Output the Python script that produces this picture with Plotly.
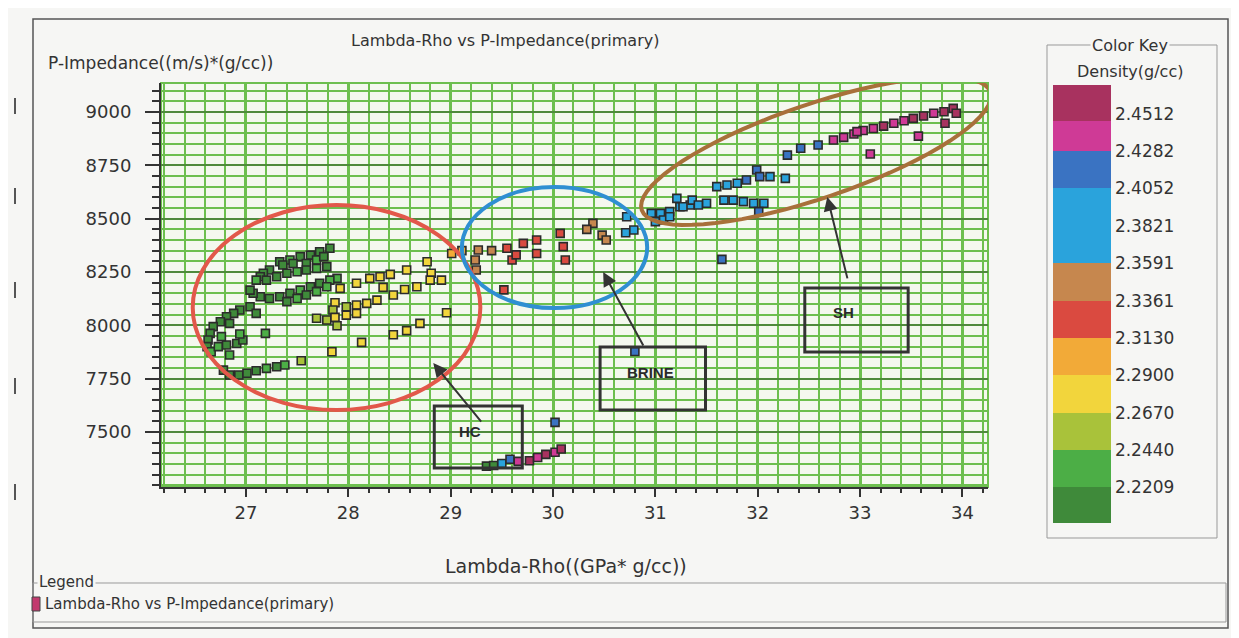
import math
import plotly.graph_objects as go

# ---------------- data ----------------
# HC zone (low density greens)
hc_lr = [27.82,27.72,27.63,27.53,27.43,27.33,27.36,27.46,27.59,27.69,27.76,
         27.23,27.17,27.14,27.10,27.20,27.30,27.40,27.50,27.59,27.69,27.79,27.89,
         27.82,27.72,27.63,27.53,27.43,27.33,27.23,27.14,27.07,27.04,27.40,27.50,27.59,27.69,27.79,
         27.04,26.94,26.88,26.81,26.75,26.68,26.65,26.63,26.62,26.66,26.73,26.81,26.91,26.97,26.94,26.84,26.76,26.84,27.10,27.19,
         26.78,26.84,26.93,27.01,27.10,27.20,27.30,27.38]
hc_pi = [8361,8345,8329,8322,8306,8298,8283,8290,8290,8306,8322,
         8259,8244,8228,8212,8212,8228,8244,8251,8259,8267,8275,8220,
         8212,8197,8181,8165,8150,8134,8126,8134,8150,8165,8111,8126,8142,8158,8181,
         8087,8072,8056,8040,8017,7994,7962,7931,7900,7876,7900,7908,7915,7931,7959,8009,7947,7861,8056,7962,
         7790,7767,7767,7775,7787,7798,7806,7814]
hc_den = [2.21,2.215,2.22,2.21,2.225,2.21,2.215,2.21,2.22,2.23,2.215,
          2.21,2.21,2.22,2.23,2.215,2.21,2.22,2.225,2.21,2.23,2.22,2.235,
          2.23,2.22,2.21,2.225,2.215,2.21,2.22,2.21,2.215,2.21,2.22,2.23,2.215,2.225,2.235,
          2.21,2.215,2.21,2.22,2.21,2.215,2.21,2.205,2.21,2.225,2.23,2.22,2.215,2.21,2.225,2.21,2.23,2.225,2.21,2.235,
          2.21,2.215,2.21,2.22,2.215,2.225,2.21,2.23]

# transition (yellow) points
tr_lr = [27.92,28.08,28.21,28.31,28.41,28.57,28.77,28.81,28.80,28.91,28.67,28.55,28.44,28.34,28.28,28.18,28.08,27.98,
         27.87,27.85,27.98,28.08,27.69,27.79,27.87,27.89,28.96,28.70,28.57,28.44,28.13,27.84,27.54,29.01,29.11]
tr_pi = [8173,8197,8220,8228,8239,8259,8298,8244,8212,8212,8181,8168,8142,8178,8118,8103,8095,8087,
         8106,8072,8048,8056,8033,8025,8037,7998,8059,8009,7975,7956,7920,7876,7834,8337,8350]
tr_den = [2.27,2.275,2.28,2.27,2.275,2.28,2.285,2.27,2.275,2.28,2.27,2.275,2.28,2.27,2.275,2.27,2.28,2.265,
          2.27,2.26,2.27,2.275,2.255,2.26,2.27,2.265,2.285,2.275,2.28,2.27,2.275,2.27,2.265,2.29,2.295]

# BRINE zone
br_lr = [29.27,29.40,29.24,29.25,29.55,29.60,29.71,29.84,29.84,30.07,30.10,30.12,29.52,29.64,
         30.39,30.33,30.48,30.52,30.72,30.71,30.79,30.96,31.05,31.14,31.24,31.34,31.50,31.00,31.08]
br_pi = [8353,8350,8306,8259,8361,8306,8384,8400,8337,8431,8369,8306,8166,8330,
         8478,8450,8423,8400,8509,8434,8447,8525,8525,8533,8556,8564,8572,8486,8494]
br_den = [2.345,2.345,2.34,2.345,2.325,2.32,2.325,2.33,2.32,2.325,2.32,2.33,2.325,2.32,
          2.35,2.345,2.35,2.345,2.385,2.38,2.39,2.385,2.39,2.38,2.39,2.385,2.395,2.38,2.39]

# SH zone
sh_lr = [31.21,31.27,31.36,31.42,31.60,31.70,31.80,31.89,31.99,32.02,32.12,32.27,31.67,31.76,31.86,31.96,32.06,32.01,31.14,31.65,
         32.29,32.42,32.59,
         32.74,32.84,32.94,33.03,33.13,33.23,33.33,33.43,33.52,33.62,33.72,33.82,33.91,33.94,33.83,33.57,33.10,32.97]
sh_pi = [8595,8556,8587,8564,8650,8658,8666,8681,8728,8697,8697,8689,8587,8587,8580,8572,8572,8533,8509,8309,
         8798,8830,8845,
         8869,8881,8897,8913,8923,8934,8947,8959,8970,8981,8994,9001,9017,8994,8947,8887,8803,8908]
sh_den = [2.39,2.38,2.39,2.40,2.385,2.39,2.40,2.41,2.415,2.41,2.40,2.39,2.395,2.40,2.39,2.385,2.40,2.41,2.38,2.415,
          2.415,2.42,2.425,
          2.435,2.44,2.445,2.44,2.445,2.45,2.44,2.445,2.45,2.455,2.445,2.45,2.46,2.455,2.45,2.445,2.44,2.445]

# low-impedance cluster
lo_lr = [29.35,29.42,29.50,29.58,29.66,29.77,29.85,29.93,30.02,30.08,30.02,30.80]
lo_pi = [7340,7343,7352,7372,7362,7365,7380,7395,7405,7420,7545,7877]
lo_den = [2.21,2.22,2.39,2.41,2.44,2.45,2.44,2.455,2.44,2.45,2.41,2.41]

# colour key
key_ticks = [2.4512,2.4282,2.4052,2.3821,2.3591,2.3361,2.3130,2.2900,2.2670,2.2440,2.2209]
key_min, key_max = 2.199, 2.469
key_bounds = [2.199,2.2209,2.2440,2.2670,2.2900,2.3130,2.3361,2.3591,2.4052,2.4282,2.447,2.469]
key_colors = ["#3f8a3a","#4cae46","#a9c23a","#f2d53c","#f2aa38","#da4a40","#c6874e",
              "#2aa3dc","#3a73c2","#cf3a96","#a8325f"]

x_ticks = [27,28,29,30,31,32,33,34]
y_ticks = [7500,7750,8000,8250,8500,8750,9000]

# ---------------- layout geometry (reference-image pixels) ----------------
OFF = 8                      # page body margin
W, H = 1239 - OFF, 638 - OFF
L, R, T, B = 161, 988, 83, 487
PW, PH = R - L, B - T
XR = [26.17, 34.25]
YR = [7242, 9136]

def px(p):
    return (p - L) / PW

def py(p):
    return (B - p) / PH

cs = []
for i, c in enumerate(key_colors):
    a = (key_bounds[i] - key_min) / (key_max - key_min)
    b = (key_bounds[i + 1] - key_min) / (key_max - key_min)
    cs.append([a, c])
    cs.append([b, c])
cs[0][0] = 0.0
cs[-1][0] = 1.0

all_x = hc_lr + tr_lr + br_lr + sh_lr + lo_lr
all_y = hc_pi + tr_pi + br_pi + sh_pi + lo_pi
all_d = hc_den + tr_den + br_den + sh_den + lo_den

FONT = "DejaVu Sans"
TXT = "#333333"
GRID = "#6dbf4f"

fig = go.Figure()
fig.add_trace(go.Scatter(
    x=all_x, y=all_y, mode="markers",
    name="Lambda-Rho vs P-Impedance(primary)",
    showlegend=False,
    marker=dict(
        symbol="square", size=8,
        color=all_d, colorscale=cs, cmin=key_min, cmax=key_max,
        line=dict(color="#2b2b2b", width=1.6),
        showscale=True,
        colorbar=dict(
            thickness=58, thicknessmode="pixels",
            len=438, lenmode="pixels",
            x=px(1053), xanchor="left", y=py(304), yanchor="middle",
            tickvals=key_ticks, ticktext=[f"{v:.4f}" for v in key_ticks],
            ticks="", outlinewidth=0, xpad=0, ypad=0,
            tickfont=dict(family=FONT, size=17, color=TXT),
        ),
    ),
))

axis_common = dict(
    showline=True, linecolor="#333333", linewidth=2,
    ticks="outside", tickcolor="#333333", tickwidth=2,
    tickfont=dict(family=FONT, size=18, color=TXT),
    zeroline=False, mirror=False,
)
fig.update_xaxes(range=XR, tickvals=x_ticks, ticklen=8, gridwidth=3, gridcolor=GRID,
                 minor=dict(dtick=0.2, tick0=27, ticklen=4, tickcolor="#333333", tickwidth=1.5,
                            showgrid=True, gridcolor=GRID, gridwidth=2),
                 **axis_common)
fig.update_yaxes(range=YR, tickvals=y_ticks, ticklen=14, gridwidth=2, gridcolor="#4f8a3c",
                 ticklabelstandoff=10,
                 minor=dict(dtick=50, tick0=7500, ticklen=7, tickcolor="#333333", tickwidth=1.5,
                            showgrid=True, gridcolor=GRID, gridwidth=1.5),
                 **axis_common)

shapes = []
shapes.append(dict(type="rect", xref="paper", yref="paper", x0=px(33), x1=px(1228), y0=py(628), y1=py(19),
                   line=dict(color="#555555", width=1.5), layer="below"))
shapes.append(dict(type="rect", xref="paper", yref="paper", x0=px(1047), x1=px(1217), y0=py(538), y1=py(45),
                   line=dict(color="#999999", width=1)))
shapes.append(dict(type="rect", xref="paper", yref="paper", x0=px(33), x1=px(1226), y0=py(622), y1=py(583),
                   line=dict(color="#999999", width=1)))
shapes.append(dict(type="rect", xref="paper", yref="paper", x0=px(32), x1=px(40), y0=py(611), y1=py(597),
                   fillcolor="#c23a6e", line=dict(color="#444444", width=1)))
shapes.append(dict(type="rect", xref="paper", yref="paper", x0=0, x1=1, y0=0, y1=1,
                   line=dict(color=GRID, width=2), layer="below"))
for y0, y1 in [(98, 114), (188, 204), (282, 298), (378, 394), (484, 500)]:
    shapes.append(dict(type="line", xref="paper", yref="paper", x0=px(15), x1=px(15), y0=py(y1), y1=py(y0),
                       line=dict(color="#555555", width=2)))

shapes.append(dict(type="circle", xref="x", yref="y", x0=26.48, x1=29.29, y0=7603, y1=8564,
                   line=dict(color="#e2584a", width=4)))
shapes.append(dict(type="circle", xref="x", yref="y", x0=29.11, x1=30.92, y0=8081, y1=8648,
                   line=dict(color="#2f8fd2", width=4)))
kx = PW / (XR[1] - XR[0])
ky = PH / (YR[1] - YR[0])
cx, cy, a, b, th = 32.57, 8817, 184, 47, math.radians(-18.7)
pts = []
for i in range(73):
    t = 2 * math.pi * i / 72
    dx = a * math.cos(th) * math.cos(t) - b * math.sin(th) * math.sin(t)
    dy = a * math.sin(th) * math.cos(t) + b * math.cos(th) * math.sin(t)
    pts.append((cx + dx / kx, cy - dy / ky))
path = "M " + " L ".join(f"{p[0]:.4f},{p[1]:.2f}" for p in pts) + " Z"
shapes.append(dict(type="path", xref="x", yref="y", path=path, line=dict(color="#a8703a", width=4)))

for x0, x1, y0, y1 in [(28.84, 29.70, 7331, 7622), (30.46, 31.49, 7603, 7898), (32.46, 33.47, 7875, 8175)]:
    shapes.append(dict(type="rect", xref="x", yref="y", x0=x0, x1=x1, y0=y0, y1=y1,
                       line=dict(color="#333333", width=3)))

anns = []
def txt(x, y, s, size=14, xanchor="center", bg=None):
    d = dict(xref="paper", yref="paper", x=x, y=y, text=s, showarrow=False,
             xanchor=xanchor, yanchor="middle", font=dict(family=FONT, size=size, color=TXT))
    if bg:
        d["bgcolor"] = bg
    anns.append(d)

PAPER = "#f6f6f4"
txt(px(505), py(41), "Lambda-Rho vs P-Impedance(primary)", 16)
txt(px(46), py(63), "P-Impedance((m/s)*(g/cc))", 17, xanchor="left")
txt(px(566), py(566), "Lambda-Rho((GPa* g/cc))", 19)
txt(px(1130), py(46), "Color Key", 16, bg=PAPER)
txt(px(1130), py(72), "Density(g/cc)", 16)
txt(px(37), py(582), "Legend", 15, xanchor="left", bg=PAPER)
txt(px(43), py(604), "Lambda-Rho vs P-Impedance(primary)", 15, xanchor="left")

for x, y, s in [(29.19, 7500, "HC"), (30.95, 7777, "BRINE"), (32.84, 8058, "SH")]:
    anns.append(dict(xref="x", yref="y", x=x, y=y, text=f"<b>{s}</b>", showarrow=False,
                     font=dict(family="Liberation Sans Narrow, Liberation Sans", size=15, color="#2a2a2a")))
for hx, hy, tx, ty in [(28.83, 7823, 29.31, 7542), (30.49, 8250, 30.89, 7898), (32.68, 8602, 32.88, 8213)]:
    anns.append(dict(xref="x", yref="y", axref="x", ayref="y", x=hx, y=hy, ax=tx, ay=ty, text="",
                     showarrow=True, arrowhead=2, arrowsize=1.4, arrowwidth=2, arrowcolor="#333333"))

fig.update_layout(
    width=W, height=H,
    margin=dict(l=L - OFF, r=W - (R - OFF), t=T - OFF, b=H - (B - OFF)),
    paper_bgcolor=PAPER, plot_bgcolor="#f4f8ef",
    shapes=shapes, annotations=anns,
    font=dict(family=FONT, color=TXT),
)

fig.write_html("out.html")
